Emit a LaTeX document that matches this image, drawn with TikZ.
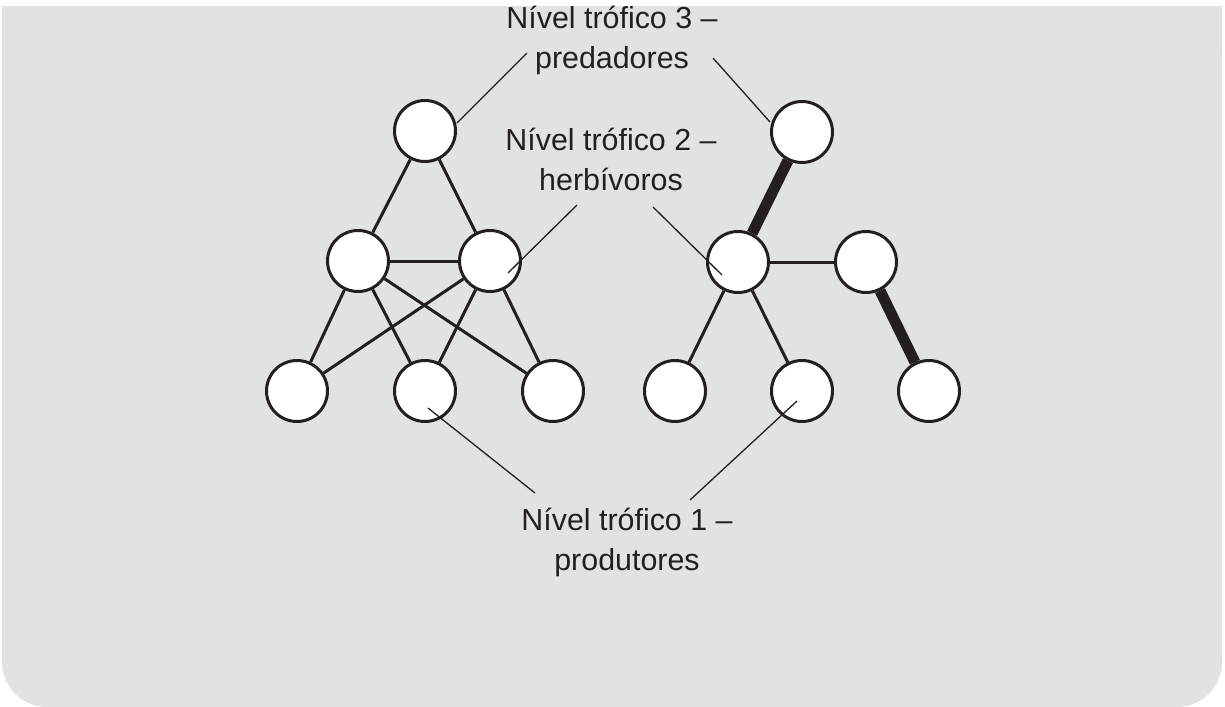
\documentclass[tikz,border=0pt]{standalone}
\usepackage{fontspec}
\setmainfont{Liberation Sans}
\definecolor{panel}{HTML}{E1E2E4}
\definecolor{ink}{HTML}{231F20}
\begin{document}
\begin{tikzpicture}[x=0.02cm, y=-0.02cm, line width=0.06cm, draw=ink,
  sp/.style={circle, draw=ink, fill=white, minimum size=1.22cm, inner sep=0pt},
  heavy/.style={line width=0.22cm},
  leader/.style={line width=0.026cm},
  lab/.style={align=center, anchor=base, text=ink, font=\fontsize{17.3}{22.7}\selectfont}]
  \useasboundingbox (0,0) rectangle (1225,707);
  \fill[panel, rounded corners=0.9cm] (2,6) rectangle (1222,707);
  \fill[panel] (2,6) rectangle (1222,100);

  \node[sp] (l3)  at (425,131) {};
  \node[sp] (l2a) at (358,261) {};
  \node[sp] (l2b) at (490,261) {};
  \node[sp] (l1a) at (297,391) {};
  \node[sp] (l1b) at (425,391) {};
  \node[sp] (l1c) at (553,391) {};
  \draw (l3) -- (l2a);
  \draw (l3) -- (l2b);
  \draw (l2a) -- (l2b);
  \foreach \a in {l2a,l2b}
    \foreach \b in {l1a,l1b,l1c}
      \draw (\a) -- (\b);

  \node[sp] (r3)  at (802,132) {};
  \node[sp] (r2a) at (738,262) {};
  \node[sp] (r2b) at (866,262) {};
  \node[sp] (r1a) at (675,391) {};
  \node[sp] (r1b) at (802,391) {};
  \node[sp] (r1c) at (929,391) {};
  \draw[heavy] (r3) -- (r2a);
  \draw (r2a) -- (r2b);
  \draw (r2a) -- (r1a);
  \draw (r2a) -- (r1b);
  \draw[heavy] (r2b) -- (r1c);

  \node[lab] (lab3) at (612,68) {Nível trófico 3 –\\predadores};
  \node[lab] (lab2) at (611,190) {Nível trófico 2 –\\herbívoros};
  \node[lab] (lab1) at (627,570) {Nível trófico 1 –\\produtores};

  \coordinate (t3a) at (527,53);  \coordinate (e3a) at (457,123);
  \coordinate (t3b) at (713,58);  \coordinate (e3b) at (770,122);
  \coordinate (t2a) at (577,205); \coordinate (e2a) at (508,273);
  \coordinate (t2b) at (653,207); \coordinate (e2b) at (722,275);
  \coordinate (t1a) at (535,493); \coordinate (e1a) at (428,408);
  \coordinate (t1b) at (690,500); \coordinate (e1b) at (797,401);
  \foreach \k in {3a,3b,2a,2b,1a,1b}
    \draw[leader] (t\k) -- (e\k);
\end{tikzpicture}
\end{document}
